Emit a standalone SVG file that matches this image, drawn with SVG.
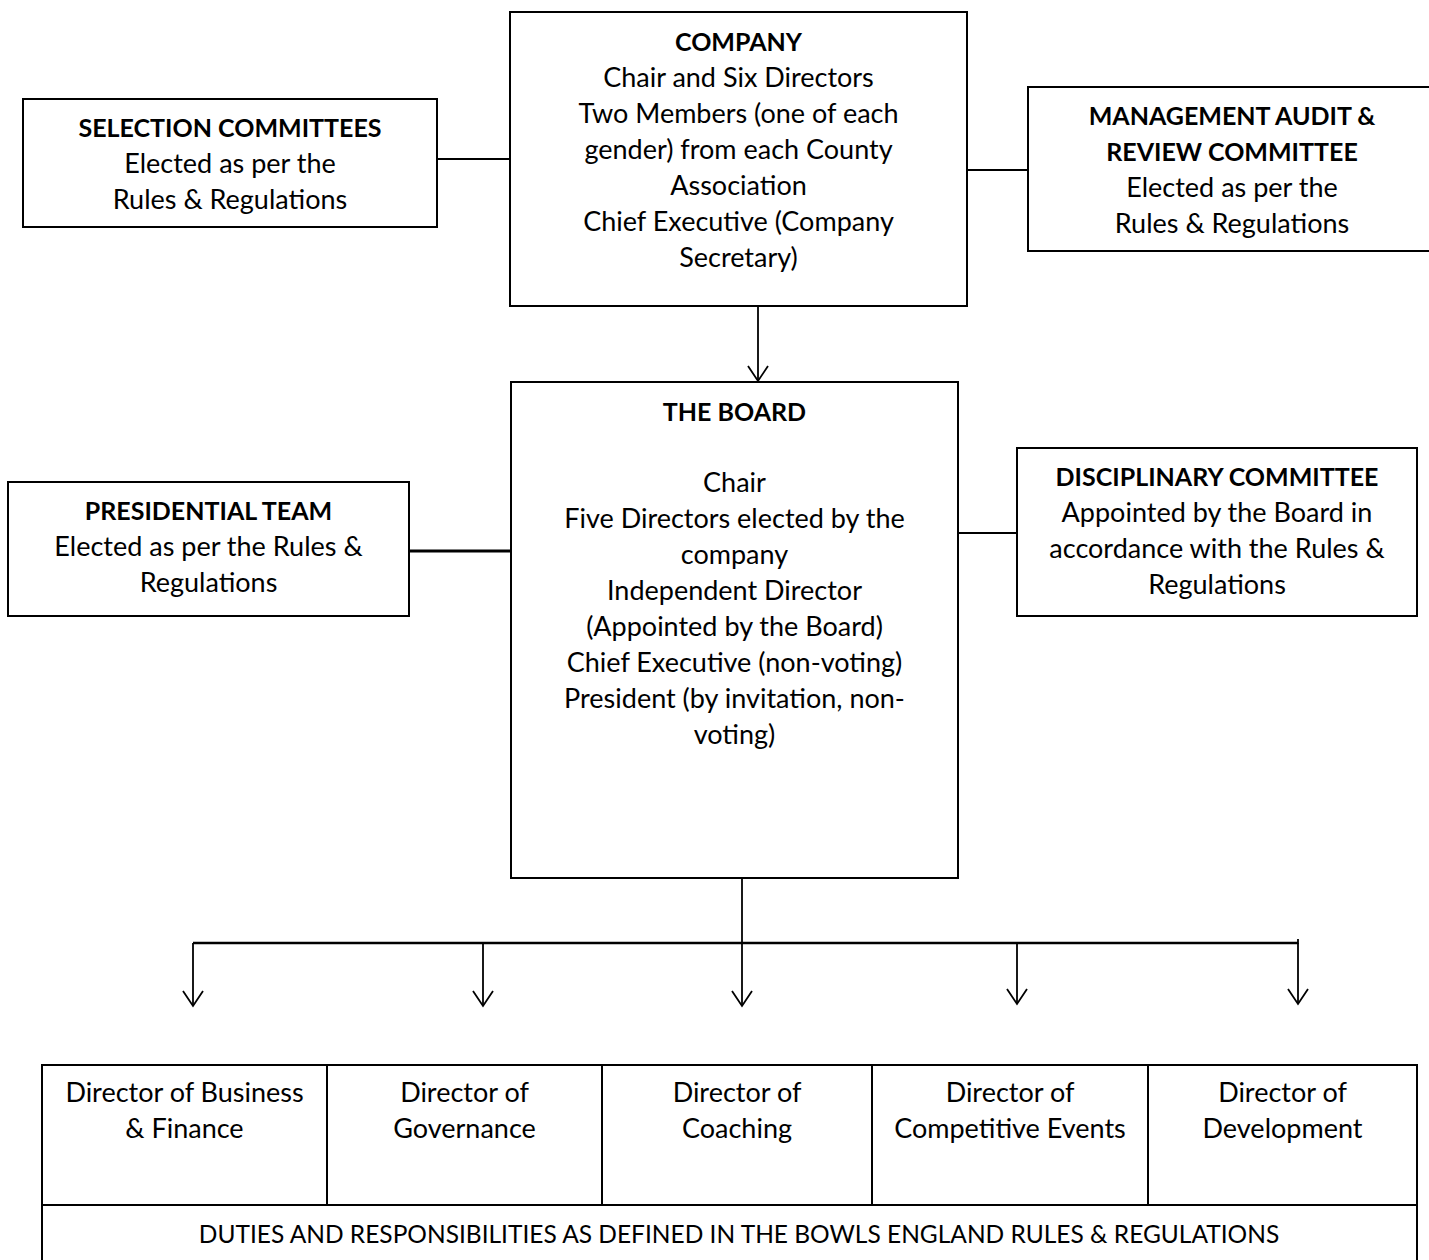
<svg xmlns="http://www.w3.org/2000/svg" width="1429" height="1260" viewBox="0 0 1429 1260">
<style>
.box{fill:#fff;stroke:#000;stroke-width:2}
.ln{stroke:#000;stroke-width:1.8;fill:none}
text{font-family:Lato,"Liberation Sans",sans-serif;font-size:27px;fill:#000;text-anchor:middle}
.b{font-weight:bold;font-size:25px}
.caps{font-size:24.5px}
</style>
<defs>
<marker id="ah" viewBox="-17 -12 19 24" refX="0" refY="0" markerWidth="19" markerHeight="24" markerUnits="userSpaceOnUse" orient="auto">
<path d="M-15,-10 L0,0 L-15,10" fill="none" stroke="#000" stroke-width="1.8"/>
</marker>
</defs>
<g id="connectors">
<line class="ln" x1="437" y1="159" x2="510" y2="159"/>
<line class="ln" x1="967" y1="170" x2="1028" y2="170"/>
<line class="ln" x1="758" y1="306" x2="758" y2="381" marker-end="url(#ah)"/>
<line class="ln" x1="409" y1="551" x2="511" y2="551" style="stroke-width:3"/>
<line class="ln" x1="958" y1="533" x2="1017" y2="533"/>
<line class="ln" x1="742" y1="878" x2="742" y2="1006" marker-end="url(#ah)"/>
<line class="ln" x1="193" y1="943" x2="1298" y2="943" style="stroke-width:2.5"/>
<line class="ln" x1="1298" y1="939" x2="1298" y2="944"/>
<line class="ln" x1="193" y1="943" x2="193" y2="1006" marker-end="url(#ah)"/>
<line class="ln" x1="483" y1="943" x2="483" y2="1006" marker-end="url(#ah)"/>
<line class="ln" x1="1017" y1="943" x2="1017" y2="1004" marker-end="url(#ah)"/>
<line class="ln" x1="1298" y1="943" x2="1298" y2="1004" marker-end="url(#ah)"/>
</g>
<g id="company">
<rect class="box" x="510" y="12" width="457" height="294"/>
<text class="b" x="738.5" y="51">COMPANY</text>
<text x="738.5" y="87">Chair and Six Directors</text>
<text x="738.5" y="123">Two Members (one of each</text>
<text x="738.5" y="159">gender) from each County</text>
<text x="738.5" y="195">Association</text>
<text x="738.5" y="231">Chief Executive (Company</text>
<text x="738.5" y="267">Secretary)</text>
</g>
<g id="selection">
<rect class="box" x="23" y="99" width="414" height="128"/>
<text class="b" x="230" y="137">SELECTION COMMITTEES</text>
<text x="230" y="173">Elected as per the</text>
<text x="230" y="209">Rules &amp; Regulations</text>
</g>
<g id="management">
<rect class="box" x="1028" y="87" width="410" height="164"/>
<text class="b" x="1232" y="125">MANAGEMENT AUDIT &amp;</text>
<text class="b" x="1232" y="161">REVIEW COMMITTEE</text>
<text x="1232" y="197">Elected as per the</text>
<text x="1232" y="233">Rules &amp; Regulations</text>
</g>
<g id="board">
<rect class="box" x="511" y="382" width="447" height="496"/>
<text class="b" x="734.5" y="421">THE BOARD</text>
<text x="734.5" y="492">Chair</text>
<text x="734.5" y="528">Five Directors elected by the</text>
<text x="734.5" y="564">company</text>
<text x="734.5" y="600">Independent Director</text>
<text x="734.5" y="636">(Appointed by the Board)</text>
<text x="734.5" y="672">Chief Executive (non-voting)</text>
<text x="734.5" y="708">President (by invitation, non-</text>
<text x="734.5" y="744">voting)</text>
</g>
<g id="presidential">
<rect class="box" x="8" y="482" width="401" height="134"/>
<text class="b" x="208.5" y="520">PRESIDENTIAL TEAM</text>
<text x="208.5" y="556">Elected as per the Rules &amp;</text>
<text x="208.5" y="592">Regulations</text>
</g>
<g id="disciplinary">
<rect class="box" x="1017" y="448" width="400" height="168"/>
<text class="b" x="1217" y="486">DISCIPLINARY COMMITTEE</text>
<text x="1217" y="522">Appointed by the Board in</text>
<text x="1217" y="558">accordance with the Rules &amp;</text>
<text x="1217" y="594">Regulations</text>
</g>
<g id="directors">
<rect class="box" x="42" y="1065" width="1375" height="210"/>
<line class="ln" x1="42" y1="1205" x2="1417" y2="1205" style="stroke-width:2"/>
<line class="ln" x1="327" y1="1065" x2="327" y2="1205" style="stroke-width:2"/>
<line class="ln" x1="602" y1="1065" x2="602" y2="1205" style="stroke-width:2"/>
<line class="ln" x1="872" y1="1065" x2="872" y2="1205" style="stroke-width:2"/>
<line class="ln" x1="1148" y1="1065" x2="1148" y2="1205" style="stroke-width:2"/>
<text x="184.5" y="1102">Director of Business</text>
<text x="184.5" y="1138">&amp; Finance</text>
<text x="464.5" y="1102">Director of</text>
<text x="464.5" y="1138">Governance</text>
<text x="737" y="1102">Director of</text>
<text x="737" y="1138">Coaching</text>
<text x="1010" y="1102">Director of</text>
<text x="1010" y="1138">Competitive Events</text>
<text x="1282.5" y="1102">Director of</text>
<text x="1282.5" y="1138">Development</text>
<text class="caps" x="739" y="1243">DUTIES AND RESPONSIBILITIES AS DEFINED IN THE BOWLS ENGLAND RULES &amp; REGULATIONS</text>
</g>
</svg>
